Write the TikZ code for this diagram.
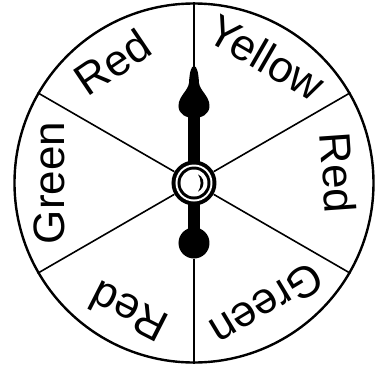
\documentclass[tikz,border=0pt]{standalone}
\usepackage{fontspec}
\setmainfont{Liberation Sans}
\begin{document}
\begin{tikzpicture}[x=1pt,y=1pt,
  rim/.style={circle,draw=black,line width=2.4pt,minimum size=359pt,inner sep=0pt},
  spoke/.style={line width=1.6pt},
  lbl/.style={anchor=base,inner sep=0pt,font=\fontsize{44}{44}\selectfont}]
\useasboundingbox (-194,-182) rectangle (184,183);
\node[rim] (wheel) at (0,0) {};
\node[circle,inner sep=0pt,minimum size=45pt] (hub) at (0,0) {};
% pointer shaft and head
\fill (-6,-60) rectangle (6,70);
\fill (0,117) .. controls (3,117) and (4.5,110) .. (5,100)
  .. controls (6,92) and (15.5,87) .. (15.5,77)
  .. controls (15.5,69) and (8,65) .. (0,65)
  .. controls (-8,65) and (-15.5,69) .. (-15.5,77)
  .. controls (-15.5,87) and (-6,92) .. (-5,100)
  .. controls (-4.5,110) and (-3,117) .. (0,117) -- cycle;
\coordinate (tip) at (0,116);
\node[circle,fill=black,inner sep=0pt,minimum size=31pt] (ball) at (0,-60) {};
% hub rings
\fill[black] (hub.center) circle (22.5);
\fill[white] (hub.center) circle (18.5);
\fill[black] (hub.center) circle (16.5);
\fill[white] (hub.center) circle (13.5);
\fill (hub.center) ++(65:9.5) arc[start angle=65,end angle=-65,radius=9.5]
  .. controls (7.5,-4) and (7.5,4) .. cycle;
% spokes
\draw[spoke] (tip) -- (wheel.90);
\draw[spoke] (ball.south) -- (wheel.-90);
\foreach \a in {30,150,210,330} \draw[spoke] (hub.\a) -- (wheel.\a);
% labels
\node[lbl,rotate=-30] (l1) at (60:129) {Yellow};
\node[lbl,rotate=-86] (l2) at (4:129) {Red};
\node[lbl,rotate=-149] (l3) at (-59:127) {Green};
\node[lbl,rotate=-207] (l4) at (-117:129) {Red};
\node[lbl,rotate=90] (l5) at (180:129) {Green};
\node[lbl,rotate=34] (l6) at (124:130) {Red};
\end{tikzpicture}
\end{document}
